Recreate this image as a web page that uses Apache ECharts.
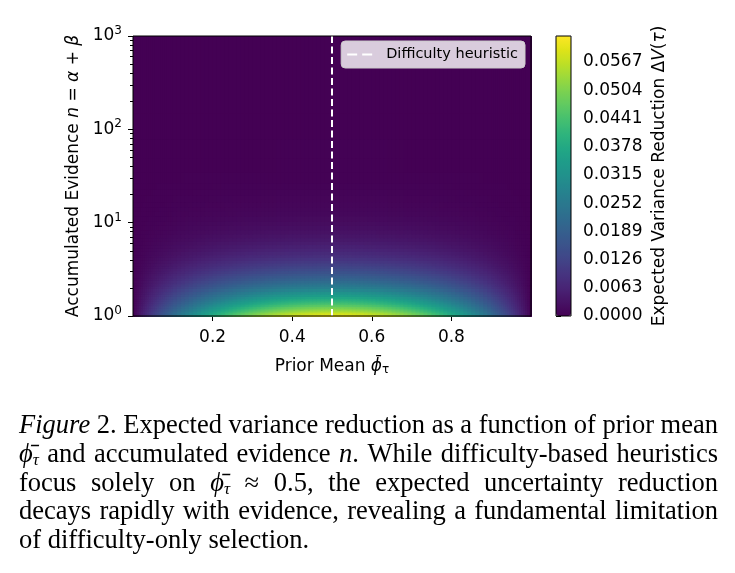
<!DOCTYPE html>
<html>
<head>
<meta charset="utf-8">
<script src="https://cdn.jsdelivr.net/npm/echarts@6/dist/echarts.min.js"></script>
<style>
  html, body { margin: 0; padding: 0; background: #fff; }
  #main { width: 735px; height: 573px; }
</style>
</head>
<body>
<div id="main"></div>
<script>
// column edges along the prior mean axis (finer near 0 and 1)
const phiEdges = [0, 0.005, 0.01, 0.015, 0.02, 0.025, 0.03, 0.035, 0.04, 0.045, 0.05,
  0.055, 0.06, 0.065, 0.07, 0.075, 0.08, 0.085, 0.09, 0.095, 0.1,
  0.11, 0.12, 0.13, 0.14, 0.15, 0.16, 0.17, 0.18, 0.19, 0.2,
  0.21, 0.22, 0.23, 0.24, 0.25, 0.26, 0.27, 0.28, 0.29, 0.3,
  0.31, 0.32, 0.33, 0.34, 0.35, 0.36, 0.37, 0.38, 0.39, 0.4,
  0.41, 0.42, 0.43, 0.44, 0.45, 0.46, 0.47, 0.48, 0.49, 0.5,
  0.51, 0.52, 0.53, 0.54, 0.55, 0.56, 0.57, 0.58, 0.59, 0.6,
  0.61, 0.62, 0.63, 0.64, 0.65, 0.66, 0.67, 0.68, 0.69, 0.7,
  0.71, 0.72, 0.73, 0.74, 0.75, 0.76, 0.77, 0.78, 0.79, 0.8,
  0.81, 0.82, 0.83, 0.84, 0.85, 0.86, 0.87, 0.88, 0.89, 0.9,
  0.905, 0.91, 0.915, 0.92, 0.925, 0.93, 0.935, 0.94, 0.945, 0.95,
  0.955, 0.96, 0.965, 0.97, 0.975, 0.98, 0.985, 0.99, 0.995, 1];

// share of the peak reduction in each column (1 = at phi 0.5)
const colShape = [0.010, 0.030, 0.049, 0.069, 0.088, 0.107, 0.126, 0.144, 0.163, 0.181,
  0.199, 0.217, 0.234, 0.252, 0.269, 0.286, 0.303, 0.319, 0.336, 0.352,
  0.376, 0.407, 0.438, 0.467, 0.496, 0.524, 0.551, 0.578, 0.603, 0.628,
  0.652, 0.675, 0.698, 0.719, 0.740, 0.760, 0.779, 0.798, 0.815, 0.832,
  0.848, 0.863, 0.878, 0.891, 0.904, 0.916, 0.927, 0.938, 0.947, 0.956,
  0.964, 0.971, 0.978, 0.983, 0.988, 0.992, 0.995, 0.998, 0.999, 1.000,
  1.000, 0.999, 0.998, 0.995, 0.992, 0.988, 0.983, 0.978, 0.971, 0.964,
  0.956, 0.947, 0.938, 0.927, 0.916, 0.904, 0.891, 0.878, 0.863, 0.848,
  0.832, 0.815, 0.798, 0.779, 0.760, 0.740, 0.719, 0.698, 0.675, 0.652,
  0.628, 0.603, 0.578, 0.551, 0.524, 0.496, 0.467, 0.438, 0.407, 0.376,
  0.352, 0.336, 0.319, 0.303, 0.286, 0.269, 0.252, 0.234, 0.217, 0.199,
  0.181, 0.163, 0.144, 0.126, 0.107, 0.088, 0.069, 0.049, 0.030, 0.010];

// row edges along n (log axis)
const nEdges = [1, 1.03, 1.06, 1.1, 1.14, 1.18, 1.23, 1.28, 1.34, 1.4,
  1.47, 1.55, 1.64, 1.74, 1.85, 2, 2.1, 2.2, 2.3, 2.45,
  2.6, 2.75, 2.9, 3.1, 3.3, 3.5, 3.75, 4, 4.3, 4.6,
  5, 5.4, 5.9, 6.4, 7, 7.7, 8.5, 9.5, 10.5, 12,
  13.5, 15, 17, 20, 23, 27, 35, 50, 80, 150, 1000];

// peak reduction (at phi 0.5) in each row
const rowPeak = [0.0618, 0.0600, 0.0580, 0.0558, 0.0537, 0.0515, 0.0492, 0.0469, 0.0445, 0.0422,
  0.0397, 0.0371, 0.0346, 0.0320, 0.0293, 0.0269, 0.0252, 0.0237, 0.0220, 0.0201,
  0.0185, 0.0171, 0.0156, 0.0142, 0.0129, 0.0117, 0.0105, 0.0094, 0.0084, 0.0074,
  0.0065, 0.0057, 0.0049, 0.0042, 0.0036, 0.0030, 0.0025, 0.0021, 0.0017, 0.0013,
  0.0011, 0.0009, 0.0007, 0.0005, 0.0004, 0.0002, 0.0001, 0.0001, 0, 0];

const heuristicPhi = 0.5;
const xTicks = [0.2, 0.4, 0.6, 0.8];
const yMinorTicks = [2, 3, 4, 5, 6, 7, 8, 9, 20, 30, 40, 50, 60, 70, 80, 90,
  200, 300, 400, 500, 600, 700, 800, 900];
const cbarTicks = [0, 0.0063, 0.0126, 0.0189, 0.0252, 0.0315, 0.0378, 0.0441, 0.0504, 0.0567];
const cbarMax = 0.0625;

const viridis = ['#440154', '#471365', '#482475', '#463480', '#414487', '#3b528b', '#355f8d',
  '#2f6c8e', '#2a788e', '#25848e', '#21918c', '#1e9c89', '#22a884', '#2fb47c', '#44bf70',
  '#5ec962', '#7ad151', '#9bd93c', '#bddf26', '#dfe318', '#fde725'];

// caption, word by word: plain strings, or [text, kind] pieces (i = italic, s = subscript)
const PHI = [['ϕ̄', 'i'], ['τ', 's']];
const captionLines = [
  [[['Figure', 'i']], '2.', 'Expected', 'variance', 'reduction', 'as', 'a', 'function', 'of', 'prior', 'mean'],
  [PHI, 'and', 'accumulated', 'evidence', [['n', 'i'], ['.', 'n']], 'While', 'difficulty-based', 'heuristics'],
  ['focus', 'solely', 'on', PHI, '≈', '0.5,', 'the', 'expected', 'uncertainty', 'reduction'],
  ['decays', 'rapidly', 'with', 'evidence,', 'revealing', 'a', 'fundamental', 'limitation'],
  ['of', 'difficulty-only', 'selection.']
];

// build the cell table
const cells = [];
for (let i = 0; i < rowPeak.length; i++) {
  for (let j = 0; j < colShape.length; j++) {
    cells.push([phiEdges[j], phiEdges[j + 1], nEdges[i], nEdges[i + 1], rowPeak[i] * colShape[j]]);
  }
}

// caption layout (justified like the paper)
const capFont = {
  n: '26.5px "Liberation Serif"',
  i: 'italic 26.5px "Liberation Serif"',
  s: 'italic 17px "Liberation Serif"'
};
const capLeft = 19, capRight = 718, capTop = 426, capLineH = 28.8;
const ctx = document.createElement('canvas').getContext('2d');
function segW(seg) {
  ctx.font = capFont[seg[1]];
  return ctx.measureText(seg[0]).width;
}
const capEls = [];
captionLines.forEach(function (line, li) {
  const words = line.map(w => typeof w === 'string' ? [[w, 'n']] : w);
  const widths = words.map(ws => ws.reduce((a, s) => a + segW(s), 0));
  const total = widths.reduce((a, b) => a + b, 0);
  const last = li === captionLines.length - 1;
  ctx.font = capFont.n;
  const gap = last ? ctx.measureText(' ').width : (capRight - capLeft - total) / (words.length - 1);
  let x = capLeft;
  const y = capTop + li * capLineH;
  words.forEach(function (ws) {
    ws.forEach(function (s) {
      capEls.push({
        type: 'text', x: x, y: s[1] === 's' ? y + 6 : y, silent: true,
        style: { text: s[0], font: capFont[s[1]], fill: '#000', textVerticalAlign: 'middle' }
      });
      x += segW(s);
    });
    x += gap;
  });
});

const chart = echarts.init(document.getElementById('main'), null, { renderer: 'canvas' });

const font = 'DejaVu Sans';
const fs = 17;
const tickStyle = { color: '#000', width: 1 };

const option = {
  animation: false,
  backgroundColor: '#fff',
  textStyle: { fontFamily: font, color: '#000' },
  grid: [
    { left: 133, top: 36, width: 398, height: 280, show: true, borderColor: '#000', borderWidth: 1,
      backgroundColor: 'transparent', z: 10, outerBoundsMode: 'none', containLabel: false },
    { left: 556, top: 36, width: 15, height: 280, show: true, borderColor: '#000', borderWidth: 1,
      backgroundColor: 'transparent', z: 10, outerBoundsMode: 'none', containLabel: false }
  ],
  xAxis: [
    {
      type: 'value', gridIndex: 0, min: 0, max: 1,
      axisLine: { show: false },
      splitLine: { show: false },
      axisTick: { customValues: xTicks, length: 5, lineStyle: tickStyle },
      axisLabel: { customValues: xTicks, color: '#000', fontSize: fs, fontFamily: font, margin: 13,
        formatter: v => v.toFixed(1) },
      name: 'Prior Mean {i|ϕ̄}{sub|τ}', nameLocation: 'middle', nameGap: 41,
      nameTextStyle: { color: '#000', fontSize: fs, fontFamily: font,
        rich: { i: { fontStyle: 'italic', fontSize: fs, fontFamily: font },
                sub: { fontSize: 12, fontFamily: font, padding: [7, 0, 0, 0] } } }
    },
    { type: 'value', gridIndex: 1, show: false, min: 0, max: 1 }
  ],
  yAxis: [
    {
      type: 'log', logBase: 10, gridIndex: 0, min: 1, max: 1000, position: 'left',
      axisLine: { show: false },
      splitLine: { show: false },
      minorTick: { show: false },
      axisTick: { length: 5, lineStyle: tickStyle },
      axisLabel: {
        color: '#000', fontSize: fs, fontFamily: font, margin: 11,
        formatter: v => '10{s|' + Math.round(Math.log10(v)) + '}',
        rich: { s: { fontSize: 12, fontFamily: font, padding: [0, 0, 10, 0] } }
      },
      name: 'Accumulated Evidence {i|n} = {i|α} + {i|β}', nameLocation: 'middle', nameGap: 46, nameRotate: 90,
      nameTextStyle: { color: '#000', fontSize: fs, fontFamily: font,
        rich: { i: { fontStyle: 'italic', fontSize: fs, fontFamily: font } } }
    },
    {
      type: 'log', logBase: 10, gridIndex: 0, min: 1, max: 1000, position: 'left', offset: 0,
      axisLine: { show: false }, splitLine: { show: false }, axisLabel: { show: false },
      axisTick: { customValues: yMinorTicks, length: 3, lineStyle: tickStyle }
    },
    {
      type: 'value', gridIndex: 1, position: 'right', min: 0, max: cbarMax,
      axisLine: { show: false }, splitLine: { show: false },
      axisTick: { customValues: cbarTicks, length: 5, lineStyle: tickStyle },
      axisLabel: { customValues: cbarTicks, color: '#000', fontSize: fs, fontFamily: font, margin: 12,
        formatter: v => v.toFixed(4) },
      name: 'Expected Variance Reduction Δ{i|V}({i|τ})', nameLocation: 'middle', nameGap: 80, nameRotate: 90,
      nameTextStyle: { color: '#000', fontSize: fs, fontFamily: font,
        rich: { i: { fontStyle: 'italic', fontSize: fs, fontFamily: font } } }
    }
  ],
  visualMap: {
    type: 'continuous', seriesIndex: 0, dimension: 4,
    min: 0, max: cbarMax,
    left: 556, top: 36, itemWidth: 15, itemHeight: 280, padding: 0,
    calculable: false, hoverLink: false, text: null,
    inRange: { color: viridis }
  },
  legend: {
    data: [{ name: 'Difficulty heuristic', icon: 'path://M0,0H10V2H0ZM15,0H25V2H15Z' }],
    right: 210, top: 41,
    padding: [6, 7, 6, 6],
    backgroundColor: 'rgba(255,255,255,0.8)',
    borderColor: '#cccccc', borderWidth: 1, borderRadius: 4,
    itemWidth: 25, itemHeight: 2,
    itemStyle: { color: '#ffffff', borderWidth: 0 },
    lineStyle: { width: 0 },
    textStyle: { color: '#000', fontSize: 14.5, fontFamily: font, padding: [0, 0, 0, 9] }
  },
  graphic: { elements: capEls },
  series: [
    {
      type: 'custom', name: 'dv', xAxisIndex: 0, yAxisIndex: 0,
      data: cells, clip: true, silent: true, z: 1,
      dimensions: ['x0', 'x1', 'y0', 'y1', 'dv'],
      encode: { x: [0, 1], y: [2, 3] },
      renderItem: function (params, api) {
        const p0 = api.coord([api.value(0), api.value(3)]);
        const p1 = api.coord([api.value(1), api.value(2)]);
        return {
          type: 'rect',
          shape: { x: p0[0], y: p0[1], width: p1[0] - p0[0] + 1, height: p1[1] - p0[1] + 1 },
          style: { fill: api.visual('color') }
        };
      }
    },
    {
      type: 'line', name: 'Difficulty heuristic', xAxisIndex: 0, yAxisIndex: 0,
      data: [[heuristicPhi, 1], [heuristicPhi, 1000]],
      symbol: 'none', showSymbol: false, silent: true, z: 5,
      lineStyle: { color: '#ffffff', width: 2, type: [7, 3.5] }
    }
  ]
};

chart.setOption(option);
</script>
</body>
</html>
